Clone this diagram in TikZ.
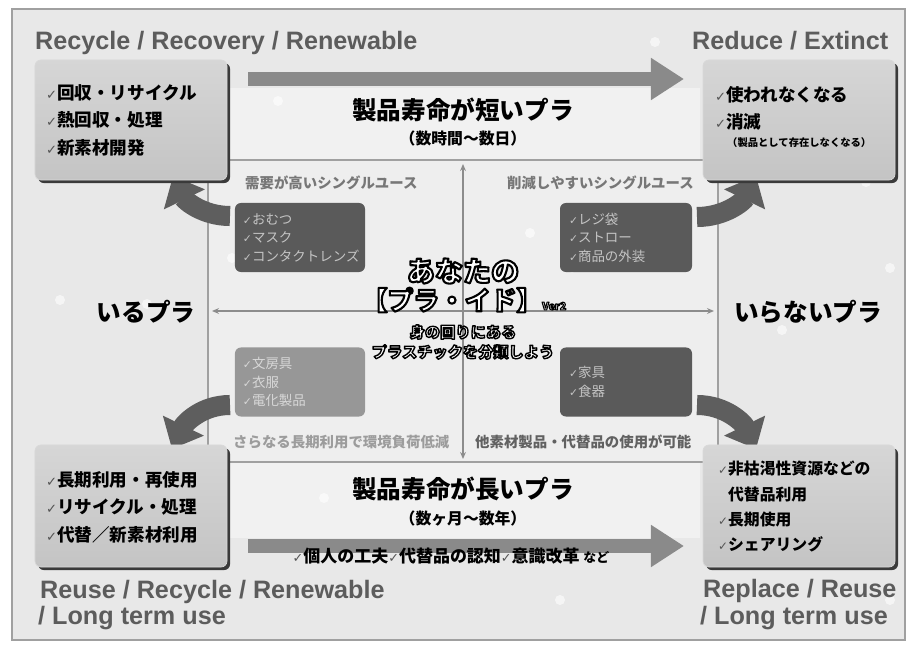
\documentclass[tikz,border=0pt]{standalone}
\usepackage{fontspec}
\setmainfont{Liberation Sans}
\newfontfamily\jp{Noto Sans CJK JP}
\newfontfamily\dv{DejaVu Sans}
\usetikzlibrary{arrows.meta,shadows}
\definecolor{bgfill}{HTML}{E8E8E8}
\definecolor{framec}{HTML}{A0A0A0}
\definecolor{bandfill}{HTML}{F1F1F1}
\definecolor{quadfill}{HTML}{EEEEEE}
\definecolor{lblgray}{HTML}{5C5C5C}
\definecolor{boxtop}{HTML}{D6D6D6}
\definecolor{boxbottom}{HTML}{C4C4C4}
\definecolor{boxshadow}{HTML}{3A3A3A}
\definecolor{darkfill}{HTML}{5A5A5A}
\definecolor{midfill}{HTML}{979797}
\definecolor{darktext}{HTML}{C4C4C4}
\definecolor{midtext}{HTML}{D8D8D8}
\definecolor{arrowgray}{HTML}{8A8A8A}
\definecolor{curvegray}{HTML}{5E5E5E}
\definecolor{axisgray}{HTML}{8C8C8C}
\definecolor{qlabel}{HTML}{777777}
\definecolor{qlabellight}{HTML}{9C9C9C}
\definecolor{qlabeldark}{HTML}{616161}
\definecolor{checkgray}{HTML}{555555}
\newcommand\ckm{{\dv\mdseries\color{checkgray}\scalebox{0.75}{✓}}}
\newcommand\ckl{{\dv\mdseries\scalebox{0.8}{✓}}}
% white text with a black stroked outline (text render mode 2)
\newcommand\outl[2][1.4]{\special{pdf:literal direct q 2 Tr #1 w 1 j 0 0 0 RG}#2\special{pdf:literal direct Q}}
\begin{document}
\begin{tikzpicture}[x=0.03cm,y=-0.03cm,
 every node/.style={inner sep=0pt},
 cornerlbl/.style={font=\fontsize{21.5pt}{24pt}\selectfont\bfseries, text=lblgray, anchor=base west},
 cornerbox/.style={draw=white!70!gray, line width=0.6pt, top color=boxtop, bottom color=boxbottom, rounded corners=5pt,
   drop shadow={shadow xshift=2.6pt, shadow yshift=-2.6pt, fill=boxshadow, opacity=1},
   minimum width=5.76cm, minimum height=3.6cm},
 boxlist/.style={font=\jp\bfseries\fontsize{15pt}{23.5pt}\selectfont, align=left, anchor=north west},
 darkbox/.style={rounded corners=5pt, minimum width=3.9cm, minimum height=2.07cm, text width=3.42cm,
   inner xsep=0.24cm, align=left, font=\jp\fontsize{11.5pt}{15.8pt}\selectfont},
 qlbl/.style={font=\jp\bfseries\fontsize{12.3pt}{14pt}\selectfont, anchor=west},
 bandtitle/.style={font=\jp\bfseries\fontsize{21pt}{24pt}\selectfont},
 bandsub/.style={font=\jp\bfseries\fontsize{13.5pt}{15pt}\selectfont},
 sidelbl/.style={font=\jp\bfseries\fontsize{21pt}{24pt}\selectfont},
 titletext/.style={text=white},
 fatarrow/.style={line width=11.95pt, arrowgray, -{Triangle[length=28.2pt,width=34.1pt]}},
 curvearrow/.style={line width=17.1pt, curvegray, -{Triangle[length=22.2pt,width=37.6pt]}},
 axisline/.style={line width=1.1pt, axisgray, {Stealth[length=6pt,width=5pt]}-{Stealth[length=6pt,width=5pt]}}
]
\useasboundingbox (0,0) rectangle (910,648);
\fill[white] (0,0) rectangle (910,648);
\fill[bgfill] (12,9) rectangle (905,640);
\draw[framec, line width=1.3pt] (12,9) rectangle (905,640);
% bands and quadrant area
\fill[bandfill] (230,88) rectangle (700,160);
\fill[bandfill] (230,462) rectangle (700,538);
\fill[quadfill] (208,160) rectangle (718,462);
\draw[framec, line width=1.2pt] (208,160) rectangle (718,462);
% snow dots
\foreach \p in {(278,101),(655,42),(866,182),(530,233),(572,268),(147,304),(60,300),(890,268),(782,330),(410,487),(324,498),(781,515),(560,600),(890,600),(232,258)}
  \fill[white, opacity=0.6] \p circle (5);
% axes
\coordinate (axL) at (212,311);
\coordinate (axR) at (714,311);
\coordinate (axT) at (463,164);
\coordinate (axB) at (463,459);
\draw[axisline] (axL) -- (axR);
\draw[axisline] (axT) -- (axB);
% straight arrows
\coordinate (ta1) at (248,79);
\coordinate (ta2) at (684,79);
\draw[fatarrow] (ta1) -- (ta2);
\coordinate (ba1) at (248,546);
\coordinate (ba2) at (684,546);
\draw[fatarrow] (ba1) -- (ba2);
% curved arrows
\coordinate (a1s) at (230,216); \coordinate (a1e) at (173,176);
\coordinate (a2s) at (697,217); \coordinate (a2e) at (756,176);
\coordinate (a3s) at (230,405); \coordinate (a3e) at (172,449);
\coordinate (a4s) at (697,405); \coordinate (a4e) at (756,449);
\draw[curvearrow] (a1s) to[out=180,in=-64] (a1e);
\draw[curvearrow] (a2s) to[out=0,in=-116] (a2e);
\draw[curvearrow] (a3s) to[out=180,in=64] (a3e);
\draw[curvearrow] (a4s) to[out=0,in=116] (a4e);
% corner boxes
\node[cornerbox] (c1) at (131,120) {};
\node[cornerbox] (c2) at (799,120) {};
\node[cornerbox, minimum height=3.66cm] (c3) at (131,506) {};
\node[cornerbox, minimum height=3.66cm] (c4) at (799,506) {};
\node[boxlist] (l1) at (46,84) {\ckm 回収・リサイクル\\\ckm 熱回収・処理\\\ckm 新素材開発};
\node[boxlist] (l2) at (715,86) {\ckm 使われなくなる\\\ckm 消滅};
\node[font=\jp\bfseries\fontsize{8.8pt}{10pt}\selectfont, anchor=west] (l2n) at (727,143) {（製品として存在しなくなる）};
\node[boxlist] (l3) at (46,471) {\ckm 長期利用・再使用\\\ckm リサイクル・処理\\\ckm 代替／新素材利用};
\node[boxlist, font=\jp\bfseries\fontsize{13.5pt}{21.6pt}\selectfont] (l4) at (718,461) {\ckm 非枯渇性資源などの\\\phantom{\ckm}代替品利用\\\ckm 長期使用\\\ckm シェアリング};
% corner labels
\node[cornerlbl] (r1) at (35,50) {Recycle / Recovery / Renewable};
\node[cornerlbl] (r2) at (692,50) {Reduce / Extinct};
\node[cornerlbl] (r3a) at (40,598) {Reuse / Recycle / Renewable};
\node[cornerlbl] (r3b) at (38,624) {/ Long term use};
\node[cornerlbl] (r4a) at (703,597) {Replace / Reuse};
\node[cornerlbl] (r4b) at (700,624) {/ Long term use};
% band titles
\node[bandtitle] (t1) at (463,110) {製品寿命が短いプラ};
\node[bandsub] (t1s) at (463,138) {（数時間〜数日）};
\node[bandtitle] (t2) at (463,489) {製品寿命が長いプラ};
\node[bandsub] (t2s) at (463,519) {（数ヶ月〜数年）};
\node[font=\jp\bfseries\fontsize{14.5pt}{16pt}\selectfont] (bt) at (451,556) {\ckm 個人の工夫\ckm 代替品の認知\ckm 意識改革 {\fontsize{11pt}{12pt}\selectfont など}};
% side labels
\node[sidelbl] (iru) at (146,312) {いるプラ};
\node[sidelbl] (iranai) at (808,312) {いらないプラ};
% quadrant labels
\node[qlbl, text=qlabel] (ql1) at (245,183) {需要が高いシングルユース};
\node[qlbl, text=qlabel] (ql2) at (507,183) {削減しやすいシングルユース};
\node[qlbl, text=qlabellight] (ql3) at (233,442) {さらなる長期利用で環境負荷低減};
\node[qlbl, text=qlabeldark] (ql4) at (475,442) {他素材製品・代替品の使用が可能};
% quadrant boxes
\node[darkbox, fill=darkfill, text=darktext] (q1) at (300,237.5) {\ckl おむつ\\\ckl マスク\\\ckl コンタクトレンズ};
\node[darkbox, fill=darkfill, text=darktext, minimum width=3.96cm] (q2) at (626,237.5) {\ckl レジ袋\\\ckl ストロー\\\ckl 商品の外装};
\node[darkbox, fill=midfill, text=midtext] (q3) at (300,382) {\ckl 文房具\\\ckl 衣服\\\ckl 電化製品};
\node[darkbox, fill=darkfill, text=darktext, minimum width=3.96cm] (q4) at (626,382) {\ckl 家具\\\ckl 食器};
% centre title
\node[titletext, font=\jp\bfseries\fontsize{24pt}{24pt}\selectfont] (title1) at (463,271) {\outl[1.8]{あなたの}};
\node[titletext, font=\jp\bfseries\fontsize{22pt}{24pt}\selectfont] (title2) at (464,300) {\outl[1.8]{【プラ・イド】}\outl[0.9]{\fontsize{9pt}{10pt}\selectfont Ver2}};
\node[titletext, font=\jp\bfseries\fontsize{13pt}{17pt}\selectfont, align=center] (title3) at (463,342) {\outl[1.2]{身の回りにある}\\\outl[1.2]{プラスチックを分類しよう}};
\end{tikzpicture}
\end{document}
